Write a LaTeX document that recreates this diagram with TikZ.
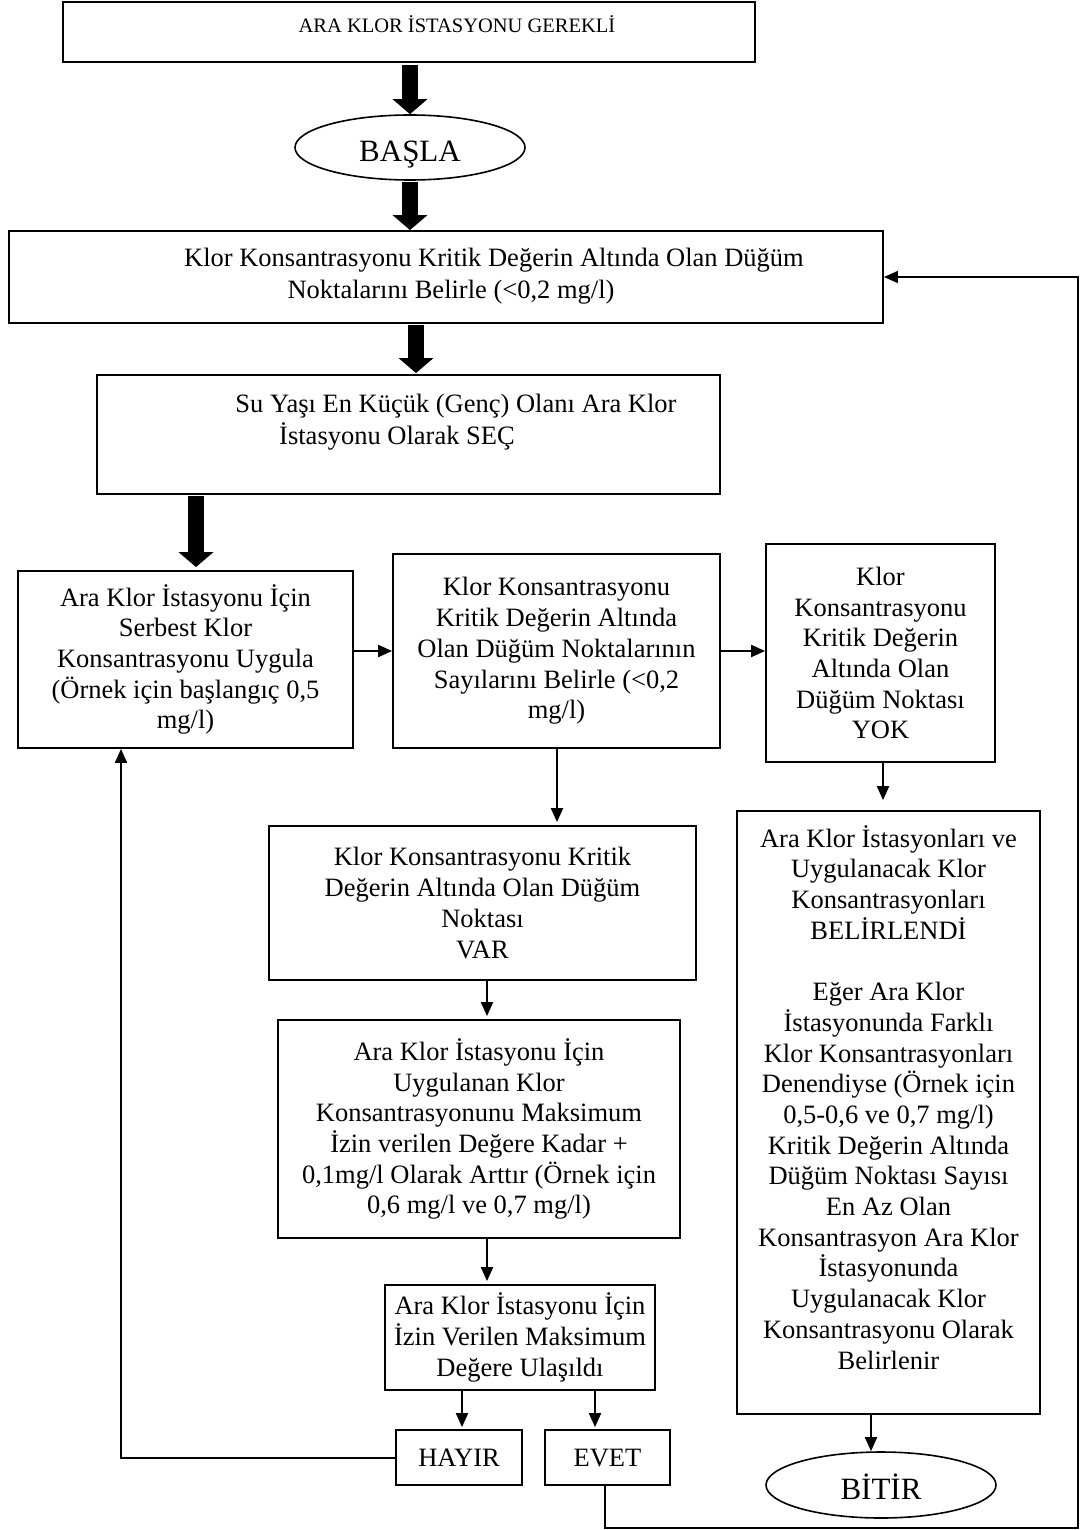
\documentclass[tikz,border=0pt]{standalone}
\usepackage{fontspec}
\setmainfont{Liberation Serif}
\usetikzlibrary{arrows.meta,shapes.geometric}
\tikzset{
  box/.style={draw, line width=1.8pt, rectangle, inner sep=0pt, align=center,
    font=\fontsize{26.5}{30.7}\selectfont},
  oval/.style={draw, line width=1.6pt, ellipse, inner sep=0pt,
    minimum width=230pt, minimum height=65pt, font=\fontsize{31}{36}\selectfont,
    text height=29pt, text depth=0pt},
  txt/.style={inner sep=0pt, align=center, font=\fontsize{26.5}{31.5}\selectfont},
  fat/.style={line width=16pt, -{Triangle[width=34pt,length=15pt]}},
  arr/.style={line width=2pt, -{Triangle[width=12pt,length=14pt]}},
  yn/.style={box, minimum height=55pt, text height=17.5pt, text depth=0pt},
}
\begin{document}
\begin{tikzpicture}[x=1pt,y=-1pt]
\useasboundingbox (0,0) rectangle (1080,1530);
% boxes
\node[box, minimum width=692pt, minimum height=60pt] (b1) at (409,32) {};
\node[inner sep=0pt, anchor=base, font=\fontsize{20.5}{24}\selectfont] (t1) at (457,33) {ARA KLOR İSTASYONU GEREKLİ};
\node[oval] (s) at (410,147.5) {BAŞLA};
\node[box, minimum width=874pt, minimum height=92pt] (b2) at (446,277) {};
\node[txt] (t2) at (451,276) {\hspace*{86pt}Klor Konsantrasyonu Kritik Değerin Altında Olan Düğüm\\Noktalarını Belirle (<0,2 mg/l)};
\node[box, minimum width=623pt, minimum height=119pt] (b3) at (408.5,434.5) {};
\node[txt, font=\fontsize{26.5}{32}\selectfont] (t3) at (397,422) {\hspace*{118pt}Su Yaşı En Küçük (Genç) Olanı Ara Klor\\İstasyonu Olarak SEÇ};
\node[box, minimum width=335pt, minimum height=177pt] (b4) at (185.5,659.5) {Ara Klor İstasyonu İçin\\Serbest Klor\\Konsantrasyonu Uygula\\(Örnek için başlangıç 0,5\\mg/l)};
\node[box, minimum width=327pt, minimum height=194pt] (b5) at (556.5,651) {Klor Konsantrasyonu\\Kritik Değerin Altında\\Olan Düğüm Noktalarının\\Sayılarını Belirle (<0,2\\mg/l)};
\node[box, minimum width=229pt, minimum height=218pt] (b6) at (880.5,653) {Klor\\Konsantrasyonu\\Kritik Değerin\\Altında Olan\\Düğüm Noktası\\YOK};
\node[box, minimum width=427pt, minimum height=154pt] (b7) at (482.5,903) {Klor Konsantrasyonu Kritik\\Değerin Altında Olan Düğüm\\Noktası\\VAR};
\node[box, minimum width=303pt, minimum height=603pt] (b8) at (888.5,1112.5) {Ara Klor İstasyonları ve\\Uygulanacak Klor\\Konsantrasyonları\\BELİRLENDİ\\[30.7pt]Eğer Ara Klor\\İstasyonunda Farklı\\Klor Konsantrasyonları\\Denendiyse (Örnek için\\0,5-0,6 ve 0,7 mg/l)\\Kritik Değerin Altında\\Düğüm Noktası Sayısı\\En Az Olan\\Konsantrasyon Ara Klor\\İstasyonunda\\Uygulanacak Klor\\Konsantrasyonu Olarak\\Belirlenir\\\mbox{}};
\node[box, minimum width=402pt, minimum height=218pt] (b9) at (479,1129) {Ara Klor İstasyonu İçin\\Uygulanan Klor\\Konsantrasyonunu Maksimum\\İzin verilen Değere Kadar +\\0,1mg/l Olarak Arttır (Örnek için\\0,6 mg/l ve 0,7 mg/l)};
\node[box, minimum width=270pt, minimum height=105pt] (b10) at (520,1337.5) {Ara Klor İstasyonu İçin\\İzin Verilen Maksimum\\Değere Ulaşıldı};
\node[yn, minimum width=126pt] (hay) at (459,1457.5) {HAYIR};
\node[yn, minimum width=125pt] (evet) at (607.5,1457.5) {EVET};
\node[oval, minimum height=66pt] (e) at (881,1485) {BİTİR};
% helper coordinates
\coordinate (c3) at (416,0);
\coordinate (c4) at (196,0);
\coordinate (r1) at (0,651);
\coordinate (c8) at (883,0);
\coordinate (c57) at (557,0);
\coordinate (c79) at (487,0);
\coordinate (ch) at (462,0);
\coordinate (ce) at (595,0);
\coordinate (cl) at (121,0);
\coordinate (cv) at (605,0);
\coordinate (cb) at (0,1528);
\coordinate (cr) at (1078,0);
\coordinate (cf) at (871,0);
% thick arrows
\draw[fat, shorten <=2pt] (s.north |- b1.south) -- (s.north);
\draw[fat, shorten <=1pt] (s.south) -- (s.south |- b2.north);
\draw[fat, shorten <=1pt, shorten >=1pt] (c3 |- b2.south) -- (c3 |- b3.north);
\draw[fat, shorten <=1pt, shorten >=3pt] (c4 |- b3.south) -- (c4 |- b4.north);
% thin arrows
\draw[arr] (b4.east |- r1) -- (b5.west |- r1);
\draw[arr] (b5.east |- r1) -- (b6.west |- r1);
\draw[arr, shorten >=10pt] (c8 |- b6.south) -- (c8 |- b8.north);
\draw[arr, shorten >=3pt] (c57 |- b5.south) -- (c57 |- b7.north);
\draw[arr, shorten >=3pt] (c79 |- b7.south) -- (c79 |- b9.north);
\draw[arr, shorten >=3pt] (c79 |- b9.south) -- (c79 |- b10.north);
\draw[arr, shorten >=2pt] (ch |- b10.south) -- (ch |- hay.north);
\draw[arr, shorten >=2pt] (ce |- b10.south) -- (ce |- evet.north);
\draw[arr] (cf |- b8.south) -- (cf |- e.north);
\draw[arr] (hay.west) -- (cl |- hay.west) -- (cl |- b4.south);
\draw[line width=1.5pt, -{Triangle[width=12pt,length=14pt]}] (cv |- evet.south) -- (cv |- cb) -- (cr |- cb) -- (cr |- b2.east) -- (b2.east);
\end{tikzpicture}
\end{document}
